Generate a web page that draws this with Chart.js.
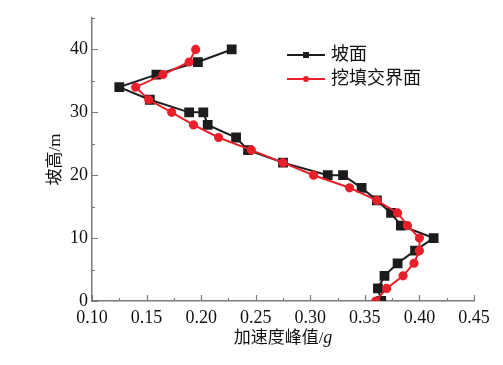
<!DOCTYPE html>
<html>
<head>
<meta charset="utf-8">
<script src="https://cdn.jsdelivr.net/npm/chart.js@4"></script>
<style>
  html, body { margin: 0; padding: 0; background: #fff; }
  #wrap { width: 503px; height: 365px; }
</style>
</head>
<body>
<div id="wrap"><canvas id="chart" width="503" height="365"></canvas></div>
<script>
// heights along the slope (m)
const heights = [40, 38, 36, 34, 32, 30, 30, 28, 26, 24, 22, 20, 20, 18, 16, 14, 12, 10, 8, 6, 4, 2, 0];
// peak acceleration on slope surface (g)
const slopeAcc = [0.228, 0.197, 0.159, 0.125, 0.153, 0.189, 0.202, 0.206, 0.232, 0.243, 0.275, 0.316, 0.330, 0.347, 0.361, 0.374, 0.383, 0.413, 0.396, 0.380, 0.368, 0.362, 0.365];

const interfaceHeights = [40, 38, 36, 34, 32, 30, 28, 26, 24, 22, 20, 18, 16, 14, 12, 10, 8, 6, 4, 2, 0];
// peak acceleration on cut-fill interface (g)
const interfaceAcc = [0.195, 0.189, 0.165, 0.140, 0.152, 0.173, 0.193, 0.216, 0.246, 0.275, 0.303, 0.336, 0.361, 0.380, 0.389, 0.400, 0.400, 0.395, 0.385, 0.370, 0.360];

const seriesNames = ['坡面', '挖填交界面'];
const xTitleMain = '加速度峰值/';
const xTitleUnit = 'g';
const yTitle = '坡高/m';

const axisColor = '#7a7a7a';
const serif = '"Liberation Serif", "Noto Sans CJK SC", serif';

// ticks point inward, drawn by hand
const innerTicks = {
    id: 'innerTicks',
    afterDraw(chart) {
        const ctx = chart.ctx;
        const x = chart.scales.x, y = chart.scales.y;
        ctx.save();
        ctx.strokeStyle = axisColor;
        ctx.lineWidth = 1.2;
        ctx.beginPath();
        for (let v = 0.10; v <= 0.4501; v += 0.025) {
            const px = Math.round(x.getPixelForValue(v)) + 0.5;
            const major = Math.abs(Math.round(v / 0.05) * 0.05 - v) < 1e-6;
            ctx.moveTo(px, y.bottom);
            ctx.lineTo(px, y.bottom - (major ? 6 : 3));
        }
        for (let v = 0; v <= 45; v += 5) {
            const py = Math.round(y.getPixelForValue(v)) + 0.5;
            ctx.moveTo(x.left, py);
            ctx.lineTo(x.left + (v % 10 === 0 ? 6 : 3), py);
        }
        ctx.stroke();

        // x title with italic unit
        ctx.fillStyle = '#111';
        ctx.textBaseline = 'middle';
        const f1 = '17px ' + serif;
        const f2 = 'italic 18px ' + serif;
        ctx.font = f1;
        const w1 = ctx.measureText(xTitleMain).width;
        ctx.font = f2;
        const w2 = ctx.measureText(xTitleUnit).width;
        const cx = (x.left + x.right) / 2;
        let sx = cx - (w1 + w2) / 2;
        ctx.font = f1;
        ctx.fillText(xTitleMain, sx, 339);
        ctx.font = f2;
        ctx.fillText(xTitleUnit, sx + w1, 338);
        ctx.restore();
    }
};

// legend with line + marker sample
const lineLegend = {
    id: 'lineLegend',
    afterDraw(chart) {
        const ctx = chart.ctx;
        ctx.save();
        chart.data.datasets.forEach((ds, i) => {
            const yy = 55 + i * 24;
            ctx.strokeStyle = ds.borderColor;
            ctx.lineWidth = 2;
            ctx.beginPath();
            ctx.moveTo(287, yy);
            ctx.lineTo(325, yy);
            ctx.stroke();
            ctx.fillStyle = ds.backgroundColor;
            if (ds.pointStyle === 'rect') {
                ctx.fillRect(303, yy - 3, 6, 6);
            } else {
                ctx.beginPath();
                ctx.arc(306, yy, 3, 0, Math.PI * 2);
                ctx.fill();
            }
            ctx.fillStyle = '#111';
            ctx.font = '18px ' + serif;
            ctx.textBaseline = 'middle';
            ctx.fillText(ds.label, 331, yy);
        });
        ctx.restore();
    }
};

new Chart(document.getElementById('chart'), {
    type: 'scatter',
    data: {
        datasets: [
            {
                label: seriesNames[0],
                data: heights.map((h, i) => ({ x: slopeAcc[i], y: h })),
                showLine: true,
                borderColor: '#1c1c1c',
                backgroundColor: '#1c1c1c',
                borderWidth: 2,
                pointStyle: 'rect',
                pointRadius: 5.5,
                pointHoverRadius: 5.5,
                order: 2
            },
            {
                label: seriesNames[1],
                data: interfaceHeights.map((h, i) => ({ x: interfaceAcc[i], y: h })),
                showLine: true,
                borderColor: '#e8202a',
                backgroundColor: '#e8202a',
                borderWidth: 2,
                pointStyle: 'circle',
                pointRadius: 3.6,
                pointHoverRadius: 3.6,
                order: 1
            }
        ]
    },
    options: {
        responsive: false,
        animation: false,
        events: [],
        layout: { padding: { top: 18, right: 29, left: 0, bottom: 0 } },
        plugins: {
            legend: { display: false },
            tooltip: { enabled: false }
        },
        scales: {
            x: {
                type: 'linear',
                min: 0.10,
                max: 0.45,
                afterFit: (s) => { s.height = 64; },
                grid: { display: false, drawTicks: false },
                border: { display: true, color: axisColor, width: 1.5 },
                ticks: {
                    stepSize: 0.05,
                    padding: 6,
                    color: '#111',
                    font: { family: serif, size: 18 },
                    callback: (v) => v.toFixed(2)
                }
            },
            y: {
                type: 'linear',
                min: 0,
                max: 45,
                afterFit: (s) => { s.width = 92; },
                grid: { display: false, drawTicks: false },
                border: { display: true, color: axisColor, width: 1.5 },
                ticks: {
                    stepSize: 10,
                    padding: 4,
                    color: '#111',
                    font: { family: serif, size: 18 },
                    callback: (v) => (v % 10 === 0 ? v : '')
                },
                title: {
                    display: true,
                    text: yTitle,
                    color: '#111',
                    font: { family: serif, size: 17 },
                    padding: { top: 45, bottom: 0 }
                }
            }
        }
    },
    plugins: [innerTicks, lineLegend]
});
</script>
</body>
</html>
